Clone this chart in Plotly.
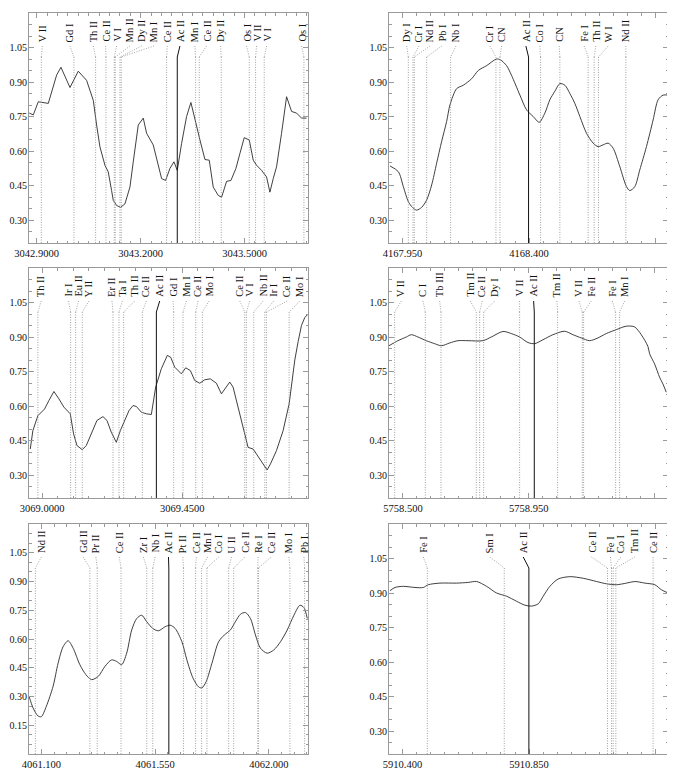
import plotly.graph_objects as go

# ---------------- Panel 1 (top-left) ----------------
p1_wave = [3042.8788, 3042.8904, 3042.9048, 3042.9337, 3042.9577, 3042.9702, 3042.9962, 3043.0202,
           3043.0442, 3043.0635, 3043.0731, 3043.0827, 3043.0971, 3043.1067, 3043.1163, 3043.1212,
           3043.1308, 3043.1423, 3043.1548, 3043.1692, 3043.1788, 3043.1933, 3043.2077, 3043.2173,
           3043.2365, 3043.2510, 3043.2606, 3043.2721, 3043.2846, 3043.2962, 3043.3058, 3043.3183,
           3043.3327, 3043.3452, 3043.3567, 3043.3712, 3043.3856, 3043.3981, 3043.4096, 3043.4240,
           3043.4337, 3043.4481, 3043.4606, 3043.4750, 3043.4865, 3043.4990, 3043.5135, 3043.5250,
           3043.5346, 3043.5490, 3043.5635, 3043.5731, 3043.5827, 3043.5923, 3043.6067, 3043.6212,
           3043.6356, 3043.6500, 3043.6644, 3043.6788]
p1_flux = [0.765, 0.757, 0.814, 0.807, 0.930, 0.964, 0.876, 0.947,
           0.907, 0.820, 0.713, 0.618, 0.538, 0.509, 0.428, 0.385,
           0.363, 0.355, 0.370, 0.443, 0.553, 0.713, 0.743, 0.677,
           0.626, 0.545, 0.480, 0.472, 0.524, 0.553, 0.516, 0.633,
           0.750, 0.811, 0.735, 0.648, 0.563, 0.560, 0.443, 0.407,
           0.399, 0.468, 0.472, 0.524, 0.589, 0.658, 0.648, 0.560,
           0.538, 0.516, 0.487, 0.421, 0.480, 0.531, 0.677, 0.836,
           0.772, 0.765, 0.743, 0.743]
p1_labels = ["V II", "Gd I", "Th II", "Ce II", "V I", "Mn II", "Dy II", "Mn I", "Ce II", "Ac II",
             "Mn I", "Ce II", "Dy II", "Os I", "V II", "V I", "Os I"]
p1_line_wave = [3042.9135, 3043.0077, 3043.0702, 3043.1000, 3043.1240, 3043.1269, 3043.1404, 3043.1442,
                3043.2750, 3043.3058, 3043.3587, 3043.3692, 3043.4327, 3043.5135, 3043.5317, 3043.5567,
                3043.6712]
p1_label_wave = [3042.9163, 3042.9962, 3043.0635, 3043.0990, 3043.1308, 3043.1692, 3043.2029, 3043.2385,
                 3043.2769, 3043.3135, 3043.3567, 3043.3904, 3043.4308, 3043.5058, 3043.5346, 3043.5635,
                 3043.6644]
p1_xticks = [3042.9, 3043.2, 3043.5]
p1_xticktext = ["3042.9000", "3043.2000", "3043.5000"]

# ---------------- Panel 2 (top-right) ----------------
p2_wave = [4167.9056, 4167.9352, 4167.9530, 4167.9707, 4167.9861, 4168.0003, 4168.0181, 4168.0359,
           4168.0536, 4168.0714, 4168.0891, 4168.1069, 4168.1187, 4168.1424, 4168.1661, 4168.1957,
           4168.2194, 4168.2490, 4168.2845, 4168.2987, 4168.3201, 4168.3376, 4168.3675, 4168.3911,
           4168.4148, 4168.4361, 4168.4563, 4168.4740, 4168.4918, 4168.5095, 4168.5273, 4168.5451,
           4168.5628, 4168.5806, 4168.6043, 4168.6280, 4168.6457, 4168.6635, 4168.6812, 4168.6990,
           4168.7227, 4168.7464, 4168.7582, 4168.7760, 4168.7937, 4168.8174, 4168.8411, 4168.8589,
           4168.8766, 4168.8944]
p2_flux = [0.535, 0.510, 0.445, 0.380, 0.354, 0.343, 0.355, 0.387,
           0.452, 0.547, 0.641, 0.728, 0.800, 0.871, 0.886, 0.914,
           0.950, 0.971, 1.000, 0.996, 0.971, 0.929, 0.843, 0.779,
           0.750, 0.725, 0.765, 0.823, 0.860, 0.893, 0.886, 0.850,
           0.807, 0.750, 0.677, 0.634, 0.619, 0.627, 0.634, 0.612,
           0.532, 0.445, 0.428, 0.445, 0.518, 0.619, 0.735, 0.823,
           0.843, 0.843]
p2_labels = ["Dy I", "Cr I", "Nd II", "Pb I", "Nb I", "Cr I", "CN", "Ac II", "Co I", "CN",
             "Fe I", "Th II", "W I", "Nd II"]
p2_line_wave = [4167.9707, 4167.9873, 4167.9920, 4168.0359, 4168.1211, 4168.2822, 4168.2964, 4168.3982,
                4168.4409, 4168.5095, 4168.6102, 4168.6315, 4168.6469, 4168.7440]
p2_label_wave = [4167.9648, 4168.0086, 4168.0477, 4168.0891, 4168.1401, 4168.2609, 4168.3023, 4168.3887,
                 4168.4385, 4168.5071, 4168.5959, 4168.6374, 4168.6812, 4168.7440]
p2_xticks = [4167.95, 4168.40, 4168.85]
p2_xticktext = ["4167.950", "4168.400", ""]

# ---------------- Panel 3 (middle-left) ----------------
p3_wave = [3068.9620, 3068.9705, 3068.9866, 3069.0080, 3069.0220, 3069.0380, 3069.0541, 3069.0702,
           3069.0905, 3069.1012, 3069.1120, 3069.1291, 3069.1420, 3069.1580, 3069.1762, 3069.1955,
           3069.2084, 3069.2223, 3069.2384, 3069.2513, 3069.2652, 3069.2791, 3069.2920, 3069.3027,
           3069.3188, 3069.3348, 3069.3509, 3069.3648, 3069.3830, 3069.4023, 3069.4130, 3069.4259,
           3069.4473, 3069.4612, 3069.4762, 3069.4902, 3069.5063, 3069.5223, 3069.5405, 3069.5598,
           3069.5759, 3069.5898, 3069.6027, 3069.6134, 3069.6295, 3069.6455, 3069.6616, 3069.6777,
           3069.6970, 3069.7098, 3069.7227, 3069.7334, 3069.7527, 3069.7741, 3069.7934, 3069.8116,
           3069.8223, 3069.8330, 3069.8438, 3069.8545]
p3_flux = [0.413, 0.493, 0.558, 0.587, 0.624, 0.663, 0.631, 0.595,
           0.566, 0.479, 0.428, 0.410, 0.428, 0.479, 0.537, 0.554,
           0.537, 0.486, 0.442, 0.493, 0.537, 0.580, 0.602, 0.598,
           0.573, 0.566, 0.563, 0.682, 0.762, 0.820, 0.812, 0.769,
           0.740, 0.766, 0.754, 0.711, 0.699, 0.714, 0.718, 0.699,
           0.653, 0.682, 0.704, 0.682, 0.595, 0.500, 0.420, 0.413,
           0.377, 0.348, 0.322, 0.348, 0.406, 0.493, 0.609, 0.800,
           0.880, 0.950, 0.985, 1.000]
p3_labels = ["Th II", "Ir I", "Eu II", "Y II", "Er II", "Ta I", "Th II", "Ce II", "Ac II", "Gd I",
             "Mn I", "Ce II", "Mo I", "Ce II", "V I", "Nb II", "Ir I", "Ce II", "Mo I"]
p3_line_wave = [3068.9866, 3069.0916, 3069.1077, 3069.1291, 3069.2277, 3069.2470, 3069.2620, 3069.3220,
                3069.3670, 3069.4227, 3069.4527, 3069.4934, 3069.5148, 3069.6509, 3069.6562, 3069.6798,
                3069.7152, 3069.7205, 3069.7934]
p3_label_wave = [3068.9973, 3069.0852, 3069.1173, 3069.1505, 3069.2245, 3069.2577, 3069.2973, 3069.3348,
                 3069.3777, 3069.4205, 3069.4634, 3069.5009, 3069.5363, 3069.6348, 3069.6670, 3069.7098,
                 3069.7441, 3069.7870, 3069.8277]
p3_xticks = [3069.0, 3069.45]
p3_xticktext = ["3069.0000", "3069.4500"]

# ---------------- Panel 4 (middle-right) ----------------
p4_wave = [5758.4499, 5758.4821, 5758.5119, 5758.5298, 5758.5536, 5758.5834, 5758.6132, 5758.6371,
           5758.6669, 5758.6967, 5758.7325, 5758.7861, 5758.8159, 5758.8576, 5758.8874, 5758.9172,
           5758.9470, 5758.9709, 5759.0007, 5759.0364, 5759.0782, 5759.1080, 5759.1378, 5759.1676,
           5759.1974, 5759.2272, 5759.2629, 5759.2987, 5759.3285, 5759.3524, 5759.3762, 5759.3822,
           5759.4000, 5759.4179, 5759.4298, 5759.4417]
p4_flux = [0.862, 0.884, 0.900, 0.910, 0.900, 0.884, 0.871, 0.862,
           0.874, 0.884, 0.884, 0.884, 0.900, 0.924, 0.915, 0.900,
           0.876, 0.871, 0.888, 0.910, 0.925, 0.910, 0.896, 0.884,
           0.896, 0.915, 0.932, 0.947, 0.944, 0.910, 0.859, 0.827,
           0.783, 0.725, 0.696, 0.660]
p4_labels = ["V II", "C I", "Tb III", "Tm II", "Ce II", "Dy I", "V II", "Ac II", "Tm II", "V II",
             "Fe II", "Fe I", "Mn I"]
p4_line_wave = [5758.4702, 5758.5799, 5758.6359, 5758.7623, 5758.7742, 5758.7885, 5758.9172, 5758.9697,
                5759.0531, 5759.1414, 5759.1461, 5759.2606, 5759.2749]
p4_label_wave = [5758.4940, 5758.5715, 5758.6311, 5758.7408, 5758.7837, 5758.8278, 5758.9172, 5758.9673,
                 5759.0508, 5759.1294, 5759.1736, 5759.2486, 5759.2928]
p4_xticks = [5758.5, 5758.95, 5759.40]
p4_xticktext = ["5758.500", "5758.950", ""]

# ---------------- Panel 5 (bottom-left) ----------------
p5_wave = [4061.0510, 4061.0669, 4061.0868, 4061.1000, 4061.1199, 4061.1463, 4061.1662, 4061.1860,
           4061.2059, 4061.2257, 4061.2522, 4061.2760, 4061.2985, 4061.3250, 4061.3515, 4061.3779,
           4061.3978, 4061.4176, 4061.4375, 4061.4574, 4061.4772, 4061.4971, 4061.5169, 4061.5407,
           4061.5632, 4061.5897, 4061.6096, 4061.6294, 4061.6559, 4061.6757, 4061.6996, 4061.7221,
           4061.7353, 4061.7525, 4061.7750, 4061.8015, 4061.8240, 4061.8478, 4061.8676, 4061.8875,
           4061.9073, 4061.9272, 4061.9471, 4061.9669, 4061.9934, 4062.0198, 4062.0463, 4062.0728,
           4062.0992, 4062.1231, 4062.1389, 4062.1522]
p5_flux = [0.302, 0.241, 0.198, 0.195, 0.250, 0.353, 0.474, 0.560,
           0.591, 0.552, 0.466, 0.414, 0.388, 0.405, 0.457, 0.491,
           0.483, 0.466, 0.526, 0.647, 0.707, 0.724, 0.690, 0.655,
           0.643, 0.664, 0.672, 0.655, 0.586, 0.491, 0.397, 0.350,
           0.345, 0.379, 0.474, 0.586, 0.621, 0.647, 0.690, 0.729,
           0.738, 0.707, 0.621, 0.552, 0.526, 0.543, 0.586, 0.647,
           0.724, 0.776, 0.764, 0.707]
p5_labels = ["Nd II", "Gd II", "Pr II", "Ce II", "Zr I", "Nb I", "Ac II", "Pt II", "Ce II", "Mn I",
             "Co I", "U II", "Ce II", "Re I", "Ce II", "Mo I", "Pb I"]
p5_line_wave = [4061.0762, 4061.2919, 4061.3210, 4061.4150, 4061.5169, 4061.5407, 4061.6043, 4061.6625,
                4061.7101, 4061.7340, 4061.7551, 4061.8412, 4061.8610, 4061.9563, 4061.9590, 4062.0834,
                4062.1416]
p5_label_wave = [4061.1000, 4061.2654, 4061.3157, 4061.4084, 4061.5037, 4061.5500, 4061.6029, 4061.6599,
                 4061.7128, 4061.7578, 4061.8015, 4061.8518, 4061.9047, 4061.9576, 4062.0092, 4062.0794,
                 4062.1389]
p5_xticks = [4061.1, 4061.55, 4062.0]
p5_xticktext = ["4061.100", "4061.550", "4062.000"]

# ---------------- Panel 6 (bottom-right) ----------------
p6_wave = [5910.3556, 5910.3734, 5910.4030, 5910.4444, 5910.4740, 5910.4918, 5910.5332, 5910.5924,
           5910.6339, 5910.6635, 5910.6990, 5910.7345, 5910.7701, 5910.8056, 5910.8352, 5910.8589,
           5910.8826, 5910.9003, 5910.9240, 5910.9536, 5910.9951, 5911.0424, 5911.0898, 5911.1253,
           5911.1609, 5911.1964, 5911.2260, 5911.2615, 5911.2971, 5911.3207, 5911.3444]
p6_flux = [0.910, 0.924, 0.929, 0.924, 0.924, 0.936, 0.943, 0.943,
           0.946, 0.950, 0.929, 0.900, 0.886, 0.864, 0.847, 0.843,
           0.853, 0.886, 0.929, 0.961, 0.971, 0.964, 0.950, 0.940,
           0.936, 0.943, 0.950, 0.943, 0.936, 0.914, 0.900]
p6_labels = ["Fe I", "Sm I", "Ac II", "Ce II", "Fe I", "Co I", "Tm II", "Ce II"]
p6_line_wave = [5910.4882, 5910.7618, 5910.8494, 5911.1289, 5911.1431, 5911.1490, 5911.1585, 5911.2911]
p6_label_wave = [5910.4740, 5910.7109, 5910.8293, 5911.0720, 5911.1395, 5911.1762, 5911.2260, 5911.2911]
p6_xticks = [5910.4, 5910.85, 5911.30]
p6_xticktext = ["5910.400", "5910.850", ""]

# y tick values
y_ticks_std = [0.30, 0.45, 0.60, 0.75, 0.90, 1.05]
y_ticks_low = [0.15, 0.30, 0.45, 0.60, 0.75, 0.90, 1.05]

# ---------------- layout geometry ----------------
PAGE_OFF = 8                      # browser body margin
W, H = 675 - PAGE_OFF, 769 - PAGE_OFF
col_px = [(29, 308), (389, 668)]  # page pixel positions of plot boxes
row_px = [(13, 243), (268, 498), (524, 754)]

panels = [
    dict(wave=p1_wave, flux=p1_flux, labels=p1_labels, lines=p1_line_wave, lpos=p1_label_wave,
         xr=[3042.878, 3043.683], yr=[0.2, 1.2], xt=p1_xticks, xtt=p1_xticktext, minor=0.03,
         m0=3042.9, yt=y_ticks_std, shape="linear", col=0, row=0),
    dict(wave=p2_wave, flux=p2_flux, labels=p2_labels, lines=p2_line_wave, lpos=p2_label_wave,
         xr=[4167.902, 4168.894], yr=[0.2, 1.2], xt=p2_xticks, xtt=p2_xticktext, minor=0.05,
         m0=4167.95, yt=y_ticks_std, shape="spline", col=1, row=0),
    dict(wave=p3_wave, flux=p3_flux, labels=p3_labels, lines=p3_line_wave, lpos=p3_label_wave,
         xr=[3068.958, 3069.854], yr=[0.2, 1.2], xt=p3_xticks, xtt=p3_xticktext, minor=0.05,
         m0=3069.0, yt=y_ticks_std, shape="linear", col=0, row=1),
    dict(wave=p4_wave, flux=p4_flux, labels=p4_labels, lines=p4_line_wave, lpos=p4_label_wave,
         xr=[5758.450, 5759.448], yr=[0.2, 1.2], xt=p4_xticks, xtt=p4_xticktext, minor=0.05,
         m0=5758.5, yt=y_ticks_std, shape="spline", col=1, row=1),
    dict(wave=p5_wave, flux=p5_flux, labels=p5_labels, lines=p5_line_wave, lpos=p5_label_wave,
         xr=[4061.051, 4062.155], yr=[0.0, 1.2], xt=p5_xticks, xtt=p5_xticktext, minor=0.05,
         m0=4061.1, yt=y_ticks_low, shape="spline", col=0, row=2),
    dict(wave=p6_wave, flux=p6_flux, labels=p6_labels, lines=p6_line_wave, lpos=p6_label_wave,
         xr=[5910.352, 5911.344], yr=[0.2, 1.2], xt=p6_xticks, xtt=p6_xticktext, minor=0.05,
         m0=5910.4, yt=y_ticks_std, shape="spline", col=1, row=2),
]

FONT = "Liberation Serif"
FRAME = "#9a9a9a"
fig = go.Figure()
shapes = []
annotations = []
layout = {}

LABEL_BOTTOM = 30   # px below panel top where the labels end
LEAD_TOP = 33       # px below panel top where leader starts
LEAD_BOT = 44       # px below panel top where leader meets the line

for i, p in enumerate(panels):
    n = i + 1
    xa = "x" if n == 1 else f"x{n}"
    ya = "y" if n == 1 else f"y{n}"
    xk = "xaxis" if n == 1 else f"xaxis{n}"
    yk = "yaxis" if n == 1 else f"yaxis{n}"
    x0, x1 = [v - PAGE_OFF for v in col_px[p["col"]]]
    t, b = [v - PAGE_OFF for v in row_px[p["row"]]]
    ph = b - t
    layout[xk] = dict(
        domain=[x0 / W, min(x1 / W, 1.0)], anchor=ya, range=p["xr"], automargin=False,
        tickmode="array", tickvals=p["xt"], ticktext=p["xtt"],
        ticks="inside", ticklen=5, tickcolor=FRAME, tickwidth=1,
        showline=True, linecolor=FRAME, linewidth=1, mirror="allticks",
        showgrid=False, zeroline=False,
        minor=dict(ticks="inside", ticklen=2.5, tickcolor=FRAME, tickmode="linear",
                   tick0=p["m0"], dtick=p["minor"], showgrid=False),
        tickfont=dict(family=FONT, size=10.5, color="#111"),
    )
    layout[yk] = dict(
        domain=[max(1 - b / H, 0.0), 1 - t / H], anchor=xa, range=p["yr"], automargin=False,
        tickmode="array", tickvals=p["yt"], ticktext=[f"{v:.2f}" for v in p["yt"]],
        ticks="inside", ticklen=5, tickcolor=FRAME, tickwidth=1,
        showline=True, linecolor=FRAME, linewidth=1, mirror="allticks",
        showgrid=False, zeroline=False,
        minor=dict(ticks="inside", ticklen=2.5, tickcolor=FRAME, tickmode="linear",
                   tick0=0, dtick=0.05, showgrid=False),
        tickfont=dict(family=FONT, size=10, color="#111"),
        ticklabelstandoff=-1,
    )
    fig.add_trace(go.Scatter(
        x=p["wave"], y=p["flux"], mode="lines", xaxis=xa, yaxis=ya,
        line=dict(color="#2a2a2a", width=0.9, shape=p["shape"], smoothing=0.8),
        showlegend=False, hoverinfo="skip"))

    ylab = 1 - LABEL_BOTTOM / ph
    ylt = 1 - LEAD_TOP / ph
    ylb = 1 - LEAD_BOT / ph
    for lab, lw, lp in zip(p["labels"], p["lines"], p["lpos"]):
        is_ac = lab == "Ac II"
        col = "#111" if is_ac else "#8c8c8c"
        dash = "solid" if is_ac else "1px,1.5px"
        wid = 1.0 if is_ac else 0.8
        shapes.append(dict(type="line", xref=xa, yref=f"{ya} domain", x0=lp, x1=lw, y0=ylt, y1=ylb,
                           line=dict(color=col, width=wid, dash=dash), layer="above"))
        shapes.append(dict(type="line", xref=xa, yref=f"{ya} domain", x0=lw, x1=lw, y0=ylb, y1=0,
                           line=dict(color=col, width=wid, dash=dash), layer="above"))
        annotations.append(dict(
            x=lp, y=ylab, xref=xa, yref=f"{ya} domain", text=lab, showarrow=False,
            textangle=-90, xanchor="center", yanchor="bottom", borderpad=0,
            font=dict(family=FONT, size=10.5, color="#111")))

fig.update_layout(
    width=W, height=H, margin=dict(l=0, r=0, t=0, b=0, autoexpand=False),
    paper_bgcolor="white", plot_bgcolor="white",
    shapes=shapes, annotations=annotations, showlegend=False,
    **layout,
)
fig.write_html("out.html")
